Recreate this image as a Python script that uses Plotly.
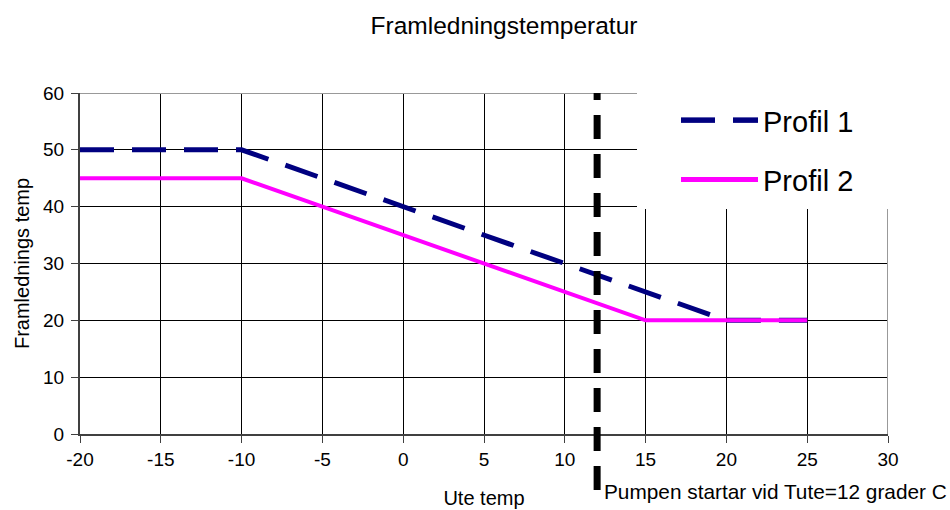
import plotly.graph_objects as go

# ---- data ----
ute_temp = [-20, -15, -10, -5, 0, 5, 10, 15, 20, 25]
profil_1 = [50, 50, 50, 45, 40, 35, 30, 25, 20, 20]
profil_2 = [45, 45, 45, 40, 35, 30, 25, 20, 20, 20]
series_names = ["Profil 1", "Profil 2"]
pump_start = 12
x_ticks = [-20, -15, -10, -5, 0, 5, 10, 15, 20, 25, 30]
x_tick_labels = ["-20", "-15", "-10", "-5", "0", "5", "10", "15", "20", "25", "30"]
y_ticks = [0, 10, 20, 30, 40, 50, 60]

FONT = "Liberation Sans, Arial, sans-serif"
W, H = 950, 510
L, R, T, B = 80, 62, 93, 76
pw, ph = W - L - R, H - T - B

def px(xp):
    return (xp - L) / pw

def py(yp):
    return (H - B - yp) / ph

fig = go.Figure()
fig.add_trace(go.Scatter(
    x=ute_temp, y=profil_1, name=series_names[0], mode="lines", legendgroup="a",
    line=dict(color="#000080", width=5, dash="34px,18px"),
))
fig.add_trace(go.Scatter(
    x=ute_temp, y=profil_2, name=series_names[1], mode="lines", legendgroup="b",
    line=dict(color="#FF00FF", width=4),
))

shapes = [
    # top and right border (grey)
    dict(type="line", xref="x", yref="y", x0=x_ticks[0], x1=x_ticks[-1], y0=y_ticks[-1], y1=y_ticks[-1],
         line=dict(color="#999999", width=2), layer="above"),
    dict(type="line", xref="x", yref="y", x0=x_ticks[-1], x1=x_ticks[-1], y0=y_ticks[0], y1=y_ticks[-1],
         line=dict(color="#999999", width=2), layer="above"),
    # white legend box
    dict(type="rect", xref="paper", yref="paper", x0=px(637), x1=px(960), y0=py(209), y1=py(-10),
         fillcolor="white", line=dict(width=0), layer="above"),
    # pump start line
    dict(type="line", xref="x", yref="paper", x0=pump_start, x1=pump_start, y0=py(490), y1=1,
         line=dict(color="black", width=7, dash="24px,15px"), layer="above"),
    # extended legend samples
    dict(type="line", xref="paper", yref="paper", x0=px(681), x1=px(758), y0=py(120), y1=py(120),
         line=dict(color="#000080", width=5, dash="34px,18px"), layer="above"),
    dict(type="line", xref="paper", yref="paper", x0=px(681), x1=px(758), y0=py(179), y1=py(179),
         line=dict(color="#FF00FF", width=4), layer="above"),
]

fig.update_layout(
    width=W, height=H,
    margin=dict(l=L, r=R, t=T, b=B, autoexpand=False),
    paper_bgcolor="white", plot_bgcolor="white",
    font=dict(family=FONT, color="black", size=19),
    title=dict(text="Framledningstemperatur", x=504 / W, xanchor="center",
               y=1 - 25 / H, yanchor="middle", xref="container", yref="container",
               font=dict(size=24.5, family=FONT, color="black")),
    showlegend=True,
    legend=dict(x=px(676), y=py(95), xanchor="left", yanchor="top",
                bgcolor="rgba(0,0,0,0)", font=dict(size=29, family=FONT, color="black"),
                itemwidth=77, tracegroupgap=19, traceorder="grouped"),
    shapes=shapes,
    annotations=[dict(text="Pumpen startar vid Tute=12 grader C", xref="paper", yref="paper",
                      x=px(602), y=py(491), xanchor="left", yanchor="middle", showarrow=False,
                      font=dict(size=20.8, family=FONT, color="black"))],
)

fig.update_xaxes(range=[x_ticks[0], x_ticks[-1]], tickvals=x_ticks, ticktext=x_tick_labels,
                 showgrid=True, gridcolor="black", gridwidth=1,
                 zeroline=False, showline=True, linecolor="#404040", linewidth=2,
                 ticks="outside", ticklen=7, tickcolor="#404040", tickwidth=1,
                 tickfont=dict(size=19, family=FONT, color="black"),
                 title=dict(text="Ute temp", font=dict(size=20, family=FONT, color="black"), standoff=22))
fig.update_yaxes(range=[y_ticks[0], y_ticks[-1]], tickvals=y_ticks, showgrid=True, gridcolor="black", gridwidth=1,
                 zeroline=False, showline=True, linecolor="#404040", linewidth=2,
                 ticks="outside", ticklen=7, tickcolor="#404040", tickwidth=1, ticklabelstandoff=3,
                 tickfont=dict(size=19, family=FONT, color="black"),
                 title=dict(text="Framlednings temp", font=dict(size=20, family=FONT, color="black"), standoff=8))

fig.write_html("out.html")
